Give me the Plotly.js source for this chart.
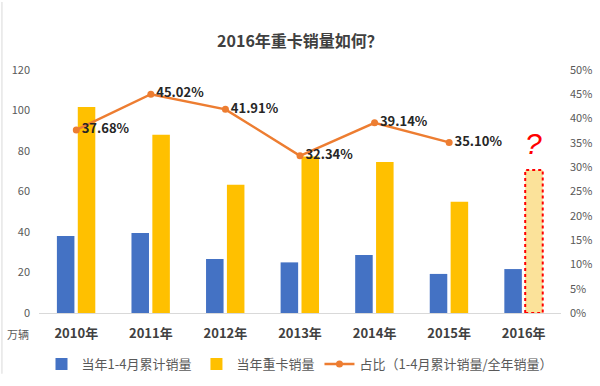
<!DOCTYPE html>
<html><head><meta charset="utf-8">
<script src="https://cdn.plot.ly/plotly-3.0.1.min.js"></script>
<style>html,body{margin:0;padding:0;background:#fff}#chart{width:600px;height:386px}</style>
</head><body><div id="chart"></div>
<script>
const years = ['2010年','2011年','2012年','2013年','2014年','2015年','2016年'];
const janAprSales = [38, 39.5, 26.7, 25, 28.6, 19.3, 21.7];
const annualSales = [101.7, 88, 63.3, 77.3, 74.6, 55, 70.6];
const ratioYears = ['2010年','2011年','2012年','2013年','2014年','2015年'];
const ratio = [0.3768, 0.4502, 0.4191, 0.3234, 0.3914, 0.3510];
const ratioLabels = ['37.68%','45.02%','41.91%','32.34%','39.14%','35.10%'];
const estimateIndex = 6;

const fontFam = '"Noto Sans CJK SC", "Noto Sans", sans-serif';
const BW = 0.235, BO1 = -0.26, BO2 = 0.02;

const yellowColors = annualSales.map((v,i)=> i===estimateIndex ? '#FBE29A' : '#FFC000');

const traces = [
  {type:'bar', name:'当年1-4月累计销量', x:years, y:janAprSales, width:BW, offset:BO1,
   marker:{color:'#4472C4'}},
  {type:'bar', name:'当年重卡销量', x:years, y:annualSales, width:BW, offset:BO2,
   marker:{color:yellowColors}},
  {type:'scatter', mode:'lines+markers+text', name:'占比（1-4月累计销量/全年销量）',
   x:ratioYears, y:ratio, yaxis:'y2', text:ratioLabels,
   texttemplate:'<b>%{text}</b>', textposition:'middle right',
   textfont:{size:13, color:'#262626', family:fontFam},
   line:{color:'#ED7D31', width:2.5}, marker:{color:'#ED7D31', size:7}}
];

const layout = {
  width:600, height:386,
  margin:{l:39, r:39, t:70, b:73, autoexpand:false},
  paper_bgcolor:'#fff', plot_bgcolor:'#fff',
  font:{family:fontFam, color:'#595959', size:11},
  title:{text:'<b>2016年重卡销量如何？</b>', x:0.5, xanchor:'center', y:0.894, yanchor:'middle',
    font:{size:16, color:'#404040', family:fontFam}},
  barmode:'group',
  showlegend:true,
  legend:{orientation:'h', x:0.5, xanchor:'center', y:-0.21, yanchor:'middle',
    font:{size:13, color:'#595959', family:fontFam}, traceorder:'normal'},
  xaxis:{type:'category', showline:true, linecolor:'#D9D9D9', linewidth:1, showgrid:false,
    ticks:'', tickfont:{size:13, color:'#404040', family:fontFam}, ticklabelstandoff:8,
    tickvals:years, ticktext:years.map(y=>'<b>'+y+'</b>'),
    range:[-0.5, 6.5]},
  yaxis:{range:[0,120], dtick:20, showgrid:false, zeroline:false, showline:false, ticks:'',
    tickfont:{size:11, color:'#595959'}, ticklabelstandoff:8},
  yaxis2:{range:[0,0.5], dtick:0.05, tickformat:'.0%', overlaying:'y', side:'right',
    showgrid:false, zeroline:false, showline:false, ticks:'',
    tickfont:{size:11, color:'#595959'}, ticklabelstandoff:8},
  shapes:[
    {type:'rect', xref:'x', yref:'y', x0:estimateIndex+BO2, x1:estimateIndex+BO2+BW,
     y0:0, y1:annualSales[estimateIndex], line:{color:'#FF0000', width:2, dash:'dot'}, fillcolor:'rgba(0,0,0,0)'},
    {type:'line', xref:'paper', yref:'paper', x0:-0.071, x1:-0.071, y0:-0.25, y1:1.28,
     line:{color:'#D9D9D9', width:1}}
  ],
  annotations:[
    {text:'<i>?</i>', xref:'x', yref:'y', x:estimateIndex+BO2+BW/2, y:annualSales[estimateIndex]+4,
     yanchor:'bottom', showarrow:false, font:{size:30, color:'#FF0000', family:'"Liberation Sans", sans-serif'}},
    {text:'万辆', xref:'paper', yref:'paper', x:-0.04, y:-0.085, xanchor:'center', yanchor:'middle',
     showarrow:false, font:{size:11, color:'#595959', family:fontFam}}
  ]
};
Plotly.newPlot('chart', traces, layout, {displayModeBar:false, staticPlot:true});
</script></body></html>
